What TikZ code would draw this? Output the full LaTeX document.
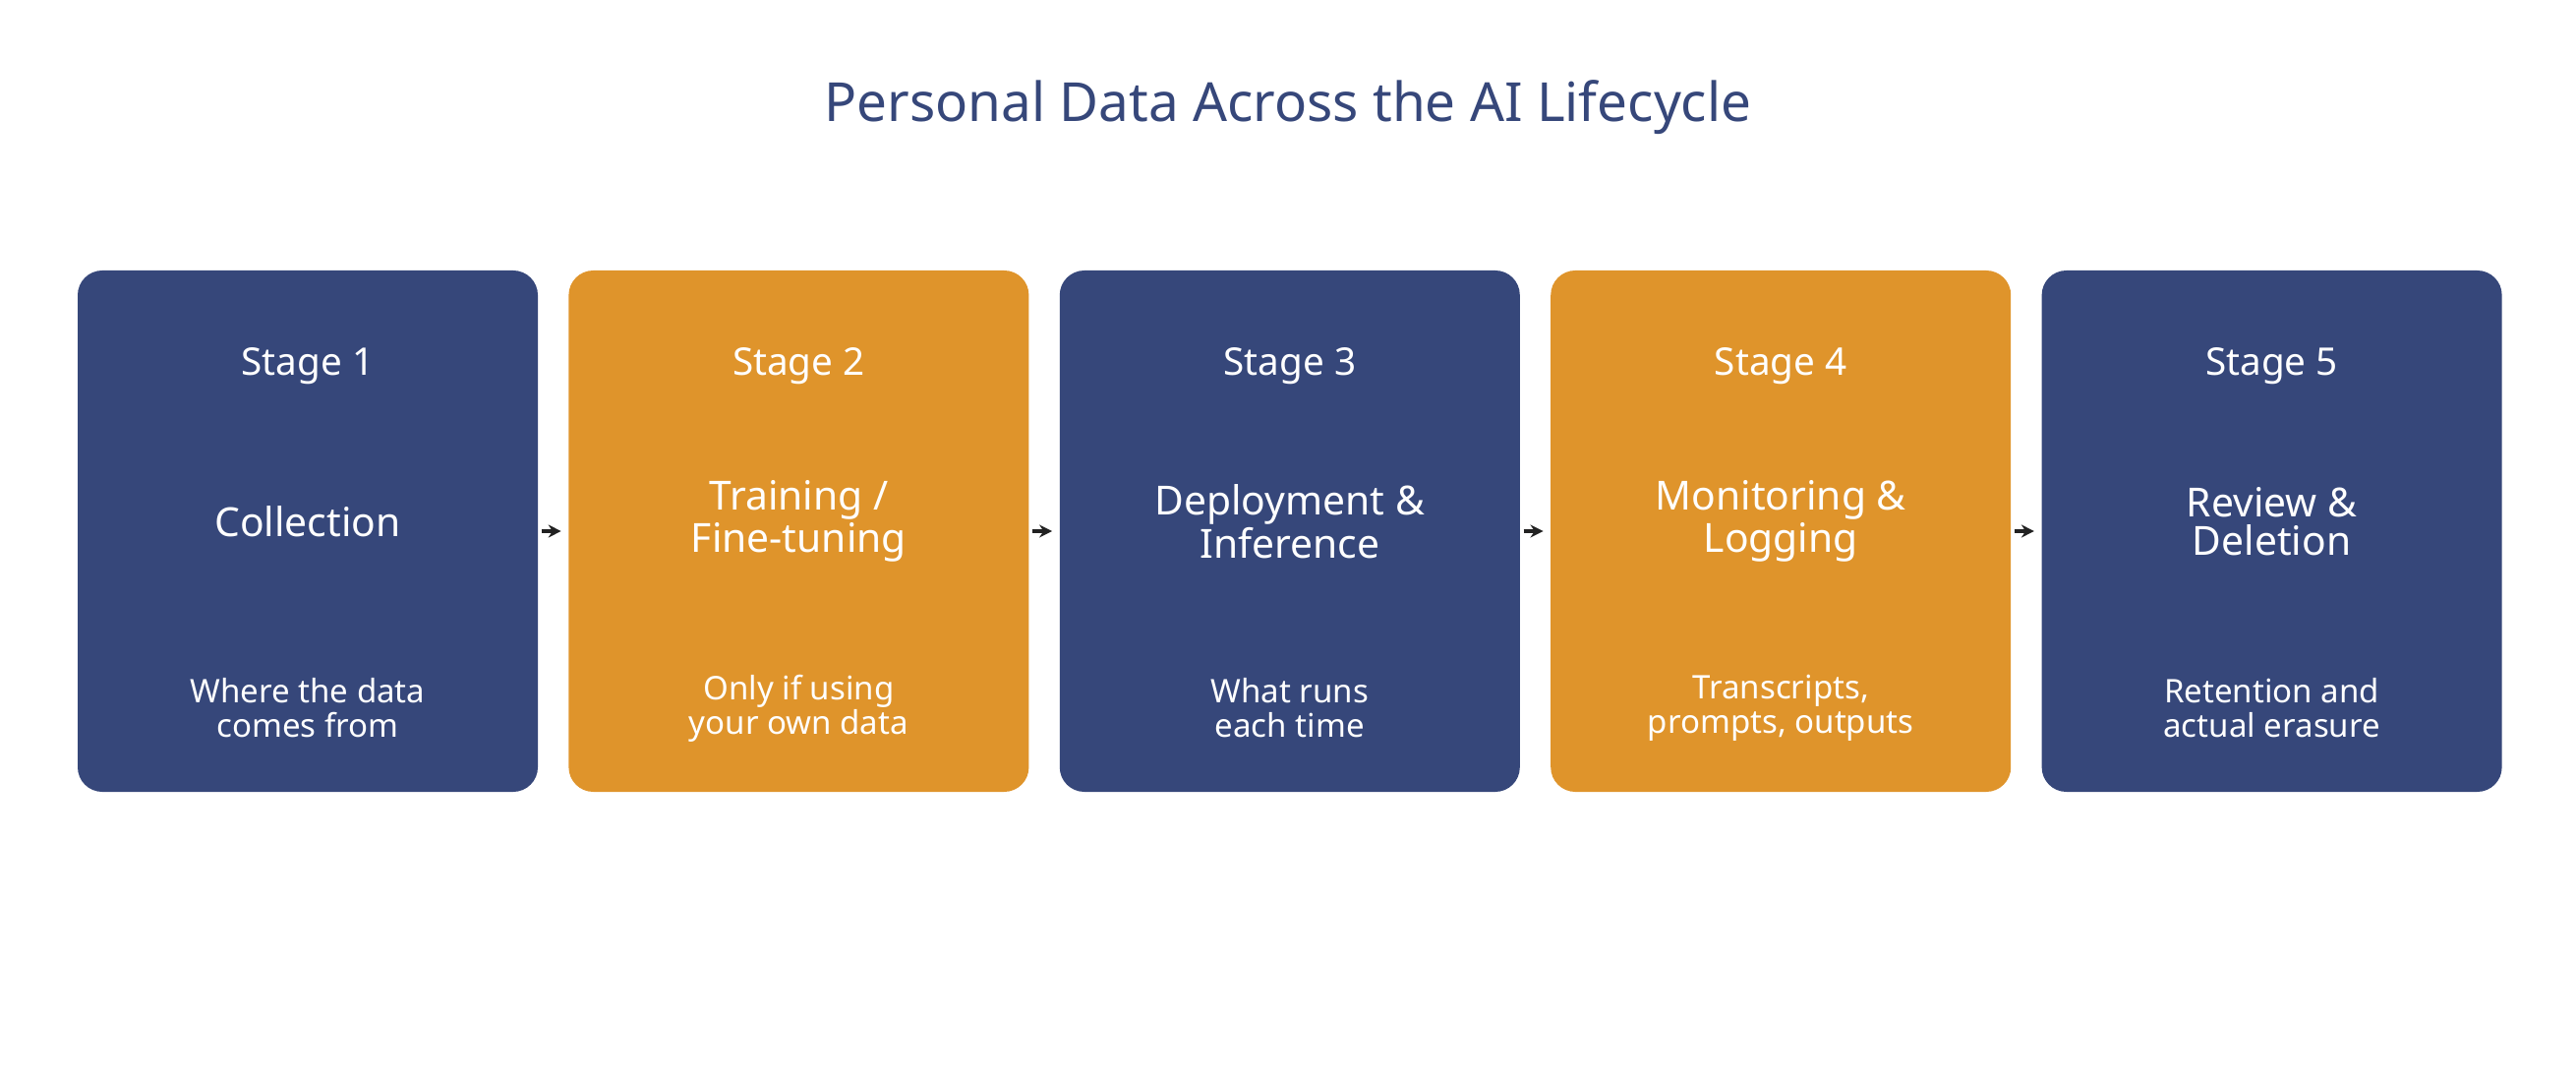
\documentclass[tikz,border=0pt]{standalone}
\usepackage{fontspec}
\setmainfont{Noto Sans}
\usepackage{tikz}
\usetikzlibrary{arrows.meta,positioning}
\definecolor{mynavy}{RGB}{54,71,122}
\definecolor{myorange}{RGB}{223,148,43}
\definecolor{myarrow}{RGB}{34,34,34}

\begin{document}
\begin{tikzpicture}[
  stagebox/.style={
    fill=#1,
    rounded corners=0.25cm,
    minimum width=4.68cm,
    minimum height=5.3cm,
    inner sep=0pt
    },
  stagelabel/.style={text=white, font=\bfseries\fontsize{11}{13}\selectfont},
  mainlabel/.style={text=white, align=center, font=\bfseries\fontsize{11.6}{11}\selectfont},
  desclabel/.style={text=white, align=center, font=\fontsize{9.4}{10}\selectfont},
  flow/.style={-{Stealth[length=0.13cm,width=0.13cm]}, line width=1.4pt, myarrow},
  node distance=0.3cm
]
\useasboundingbox (0,0) rectangle (26.2,10.99);

\node[text=mynavy, font=\bfseries\fontsize{15.6}{18}\selectfont] (title) at (13.1,9.9) {Personal Data Across the AI Lifecycle};

\node[stagebox=mynavy] (stage1) at (3.13,5.59) {};
\node[stagebox=myorange, right=of stage1] (stage2) {};
\node[stagebox=mynavy, right=of stage2] (stage3) {};
\node[stagebox=myorange, right=of stage3] (stage4) {};
\node[stagebox=mynavy, right=of stage4] (stage5) {};

\foreach \Main/\Desc [count=\Stagei from 1] in {
  Collection/{Where the data\\comes from},
  {Training /\\Fine-tuning}/{Only if using\\your own data},
  {Deployment \&\\Inference}/{What runs\\each time},
  {Monitoring \&\\Logging}/{Transcripts,\\prompts, outputs},
  {Review \&\\Deletion}/{Retention and\\actual erasure}}
{
  \node[stagelabel] (label\Stagei) at ([yshift=-0.98cm]stage\Stagei.north) {Stage \Stagei};
  \node[mainlabel] (main\Stagei) at ([yshift=0.1cm]stage\Stagei.center) {\Main};
  \node[desclabel] (desc\Stagei) at ([yshift=-1.8cm]stage\Stagei.center) {\Desc};
}

\foreach \a/\b in {1/2,2/3,3/4,4/5}
  \draw[flow] ([xshift=0.03cm]stage\a.east) -- ([xshift=-0.07cm]stage\b.west);
\end{tikzpicture}
\end{document}
